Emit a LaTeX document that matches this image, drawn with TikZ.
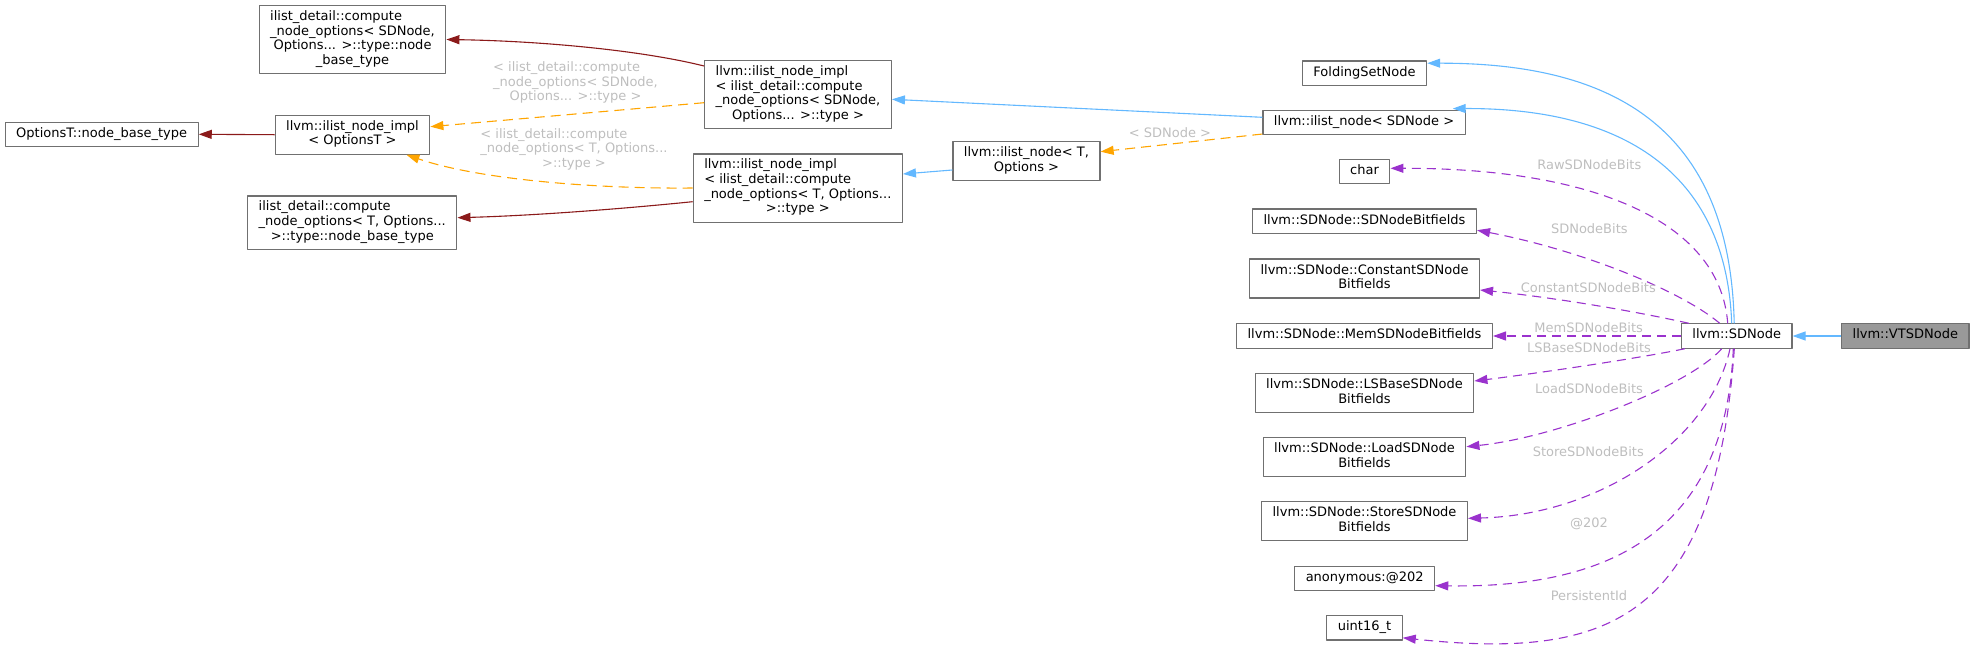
\documentclass[tikz,border=0pt]{standalone}
\usepackage{fontspec}
\setmainfont{DejaVu Sans}
\usetikzlibrary{arrows.meta}
\definecolor{cgFrame}{HTML}{707070}
\definecolor{cgRoot}{HTML}{999999}
\definecolor{cgPublic}{HTML}{63B8FF}
\definecolor{cgPrivate}{HTML}{8B1A1A}
\definecolor{cgTemplate}{HTML}{FFA500}
\definecolor{cgUsage}{HTML}{9A32CD}
\definecolor{cgLabel}{HTML}{BEBEBE}
\newcommand{\cglines}[1]{\begin{tabular}{@{}l@{}}#1\end{tabular}}
\newcommand{\cgmid}[1]{\multicolumn{1}{@{}c@{}}{#1}}
\tikzset{
  cg diagram/.style={x=1pt, y=-1pt, font=\fontsize{13}{14.65}\selectfont,
    line join=round},
  cg box/.style={draw=cgFrame, fill=white, line width=1.2pt,
    inner xsep=11pt, inner ysep=4.8pt, execute at begin node=\strut},
  cg root/.style={cg box, fill=cgRoot},
  cg public/.style={-{Triangle[length=13pt,width=9pt]}, draw=cgPublic, line width=1.1pt},
  cg private/.style={cg public, draw=cgPrivate},
  cg template/.style={cg public, draw=cgTemplate, dash pattern=on 10pt off 6pt},
  cg usage/.style={cg public, draw=cgUsage, dash pattern=on 9pt off 6pt},
  cg label/.style={text=cgLabel, inner sep=0pt}
}
\begin{document}
\begin{tikzpicture}[cg diagram]
\useasboundingbox (0,0) rectangle (1975,654);
\node[cg box] (cnosdbase) at (352.5,39.5) {\cglines{ilist\_detail::compute\\\_node\_options< SDNode,\\\cgmid{Options... >::type::node}\\\cgmid{\_base\_type}}};
\node[cg box] (optbase) at (101.7,134.3) {OptionsT::node\_base\_type};
\node[cg box] (implopt) at (352.5,134.7) {\cglines{llvm::ilist\_node\_impl\\\cgmid{< OptionsT >}}};
\node[cg box] (cnotbase) at (352.3,222.7) {\cglines{ilist\_detail::compute\\\_node\_options< T, Options...\\\cgmid{>::type::node\_base\_type}}};
\node[cg box] (implsd) at (798,94.7) {\cglines{llvm::ilist\_node\_impl\\< ilist\_detail::compute\\\_node\_options< SDNode,\\\cgmid{Options... >::type >}}};
\node[cg box] (implt) at (797.8,188) {\cglines{llvm::ilist\_node\_impl\\< ilist\_detail::compute\\\_node\_options< T, Options...\\\cgmid{>::type >}}};
\node[cg box] (ilistt) at (1026.5,161) {\cglines{llvm::ilist\_node< T,\\\cgmid{Options >}}};
\node[cg box] (folding) at (1364.5,73.2) {FoldingSetNode};
\node[cg box] (ilistsd) at (1364,122.3) {llvm::ilist\_node< SDNode >};
\node[cg box] (chr) at (1364.5,171.7) {char};
\node[cg box] (sdbits) at (1364.5,221.2) {llvm::SDNode::SDNodeBitfields};
\node[cg box] (constbits) at (1364.5,278.5) {\cglines{llvm::SDNode::ConstantSDNode\\\cgmid{Bitfields}}};
\node[cg box] (membits) at (1364.5,336) {llvm::SDNode::MemSDNodeBitfields};
\node[cg box] (lsbits) at (1364.5,393.3) {\cglines{llvm::SDNode::LSBaseSDNode\\\cgmid{Bitfields}}};
\node[cg box] (loadbits) at (1364.5,457.3) {\cglines{llvm::SDNode::LoadSDNode\\\cgmid{Bitfields}}};
\node[cg box] (storebits) at (1364.5,521.3) {\cglines{llvm::SDNode::StoreSDNode\\\cgmid{Bitfields}}};
\node[cg box] (anon) at (1364.7,578.5) {anonymous:@202};
\node[cg box] (uint) at (1364.5,627.8) {uint16\_t};
\node[cg box] (sdnode) at (1736.7,336) {llvm::SDNode};
\node[cg root] (vtsdnode) at (1905.3,336) {llvm::VTSDNode};

\draw[cg public] (vtsdnode) -- (sdnode);
\draw[cg public] ([xshift=-2.5pt]sdnode.north) .. controls (1730,125) and (1610,63) .. ([yshift=10pt]folding.east);
\draw[cg public] ([xshift=-5pt]sdnode.north) .. controls (1726,170) and (1620,108) .. ([xshift=-13pt,yshift=1pt]ilistsd.north east);
\draw[cg public] ([yshift=5pt]ilistsd.west) -- ([yshift=-4.6pt]implsd.east);
\draw[cg public] ([yshift=-9pt]ilistt.west) -- ([yshift=14pt]implt.east);
\draw[cg template] ([yshift=1pt]ilistsd.south west) -- ([yshift=9.3pt]ilistt.east);
\draw[cg template] ([yshift=-8pt]implsd.west) -- ([yshift=8pt]implopt.east);
\draw[cg template] (implt.west) .. controls (600,189) and (480,180) .. ([xshift=-24pt]implopt.south east);
\draw[cg private] ([yshift=-6pt]implsd.north west) .. controls (640,50) and (540,41) .. (cnosdbase.east);
\draw[cg private] ([yshift=-13.7pt]implt.west) .. controls (600,211) and (520,216) .. ([yshift=5pt]cnotbase.east);
\draw[cg private] (implopt.west) -- (optbase.east);

\draw[cg usage] ([xshift=-9pt]sdnode.north) .. controls (1720,220) and (1590,168) .. ([yshift=3.4pt]chr.east);
\draw[cg usage] ([xshift=-17pt]sdnode.north) .. controls (1680,290) and (1580,250) .. ([yshift=-9pt]sdbits.east);
\draw[cg usage] ([xshift=8pt]sdnode.north west) .. controls (1620,308) and (1540,296) .. ([yshift=-11.5pt]constbits.east);
\draw[cg usage] (sdnode.west) -- (membits.east);
\draw[cg usage] ([xshift=4pt]sdnode.south west) .. controls (1640,358) and (1540,373) .. ([yshift=12.3pt]lsbits.east);
\draw[cg usage] ([xshift=-15pt]sdnode.south) .. controls (1690,385) and (1560,437) .. ([yshift=10.6pt]loadbits.east);
\draw[cg usage] ([xshift=-6.7pt]sdnode.south) .. controls (1710,440) and (1600,515) .. ([yshift=3pt]storebits.east);
\draw[cg usage] ([xshift=-3.4pt]sdnode.south) .. controls (1725,540) and (1600,588) .. ([yshift=-7.2pt]anon.east);
\draw[cg usage] ([xshift=-2.4pt]sdnode.south) .. controls (1715,620) and (1610,660) .. ([yshift=-10pt]uint.east);

\node[cg label] (implsdlbl) at (575.5,83.3) {\cglines{< ilist\_detail::compute\\\_node\_options< SDNode,\\\cgmid{Options... >::type >}}};
\node[cg label] (impltlbl) at (574,150) {\cglines{< ilist\_detail::compute\\\_node\_options< T, Options...\\\cgmid{>::type >}}};
\node[cg label] (ilistsdlbl) at (1170,132.3) {< SDNode >};
\node[cg label] (rawlbl) at (1589.3,164.3) {RawSDNodeBits};
\node[cg label] (sdlbl) at (1589.3,228.7) {SDNodeBits};
\node[cg label] (constlbl) at (1588.3,287.3) {ConstantSDNodeBits};
\node[cg label] (memlbl) at (1588.7,327.3) {MemSDNodeBits};
\node[cg label] (lslbl) at (1589,347.3) {LSBaseSDNodeBits};
\node[cg label] (loadlbl) at (1589,388.3) {LoadSDNodeBits};
\node[cg label] (storelbl) at (1588.3,451.7) {StoreSDNodeBits};
\node[cg label] (anonlbl) at (1589,523.7) {@202};
\node[cg label] (uintlbl) at (1589,595.3) {PersistentId};
\end{tikzpicture}
\end{document}
